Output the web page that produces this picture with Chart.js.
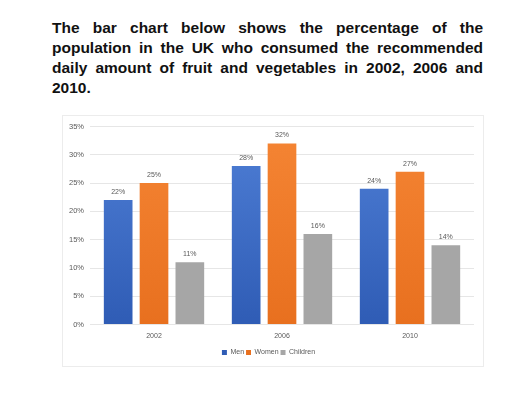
<!DOCTYPE html>
<html>
<head>
<meta charset="utf-8">
<script src="https://cdn.jsdelivr.net/npm/chart.js@4"></script>
<style>
    body { margin: 0; background: #fff; }
    #title {
        position: absolute; left: 52px; top: 18px; width: 431px;
        font-family: "Liberation Sans", Arial, sans-serif; font-weight: bold;
        font-size: 15.5px; line-height: 20px; text-align: justify; color: #111;
    }
    #frame {
        position: absolute; left: 62px; top: 115px; width: 422px; height: 252px;
        border: 1px solid #ececec; box-sizing: border-box;
    }
    #chart { position: absolute; left: 0; top: 0; }
</style>
</head>
<body>
<div id="title">The bar chart below shows the percentage of the population in the UK who consumed the recommended daily amount of fruit and vegetables in 2002, 2006 and 2010.</div>
<div id="frame"><canvas id="chart" width="420" height="250"></canvas></div>
<script>
// chart data
const years = ['2002', '2006', '2010'];
const men = [22, 28, 24];
const women = [25, 32, 27];
const children = [11, 16, 14];
const yTicks = [0, 5, 10, 15, 20, 25, 30, 35];

const FONT = '"Liberation Sans", Arial, sans-serif';

// vertical gradient for a bar colour, lighter at the top
function shade(top, bottom) {
    return context => {
        const area = context.chart.chartArea;
        if (!area) return bottom;
        const g = context.chart.ctx.createLinearGradient(0, area.top, 0, area.bottom);
        g.addColorStop(0, top);
        g.addColorStop(1, bottom);
        return g;
    };
}

// draws the value above each bar
const valueLabels = {
    id: 'valueLabels',
    afterDatasetsDraw(chart) {
        const ctx = chart.ctx;
        ctx.save();
        ctx.font = '7px ' + FONT;
        ctx.fillStyle = '#595959';
        ctx.textAlign = 'center';
        ctx.textBaseline = 'middle';
        chart.data.datasets.forEach((ds, i) => {
            chart.getDatasetMeta(i).data.forEach((bar, j) => {
                ctx.fillText(ds.data[j] + '%', bar.x, bar.y - 8);
            });
        });
        ctx.restore();
    }
};

const ctx = document.getElementById('chart').getContext('2d');
new Chart(ctx, {
    type: 'bar',
    data: {
        labels: years,
        datasets: [
            { label: 'Men', data: men, backgroundColor: shade('#4f7fd6', '#2f5cb5') },
            { label: 'Women', data: women, backgroundColor: shade('#f58534', '#e8701f') },
            { label: 'Children', data: children, backgroundColor: '#a6a6a6' }
        ]
    },
    options: {
        responsive: false,
        animation: false,
        layout: { padding: { left: 0, right: 9, top: 3, bottom: 0 } },
        datasets: { bar: { categoryPercentage: 0.84, barPercentage: 0.8 } },
        plugins: {
            tooltip: { enabled: false },
            legend: {
                position: 'bottom',
                labels: {
                    boxWidth: 5, boxHeight: 5, padding: 2,
                    color: '#595959',
                    font: { size: 7, family: FONT }
                }
            }
        },
        scales: {
            x: {
                grid: { display: false, drawTicks: false },
                border: { display: false },
                ticks: { color: '#595959', padding: 7, font: { size: 7, family: FONT } }
            },
            y: {
                min: 0, max: 35,
                afterBuildTicks: axis => { axis.ticks = yTicks.map(v => ({ value: v })); },
                grid: { color: '#e6e6e6', drawTicks: false },
                border: { display: false },
                ticks: {
                    color: '#595959', padding: 6,
                    font: { size: 7.5, family: FONT },
                    callback: v => v + '%'
                }
            }
        }
    },
    plugins: [valueLabels]
});
</script>
</body>
</html>
